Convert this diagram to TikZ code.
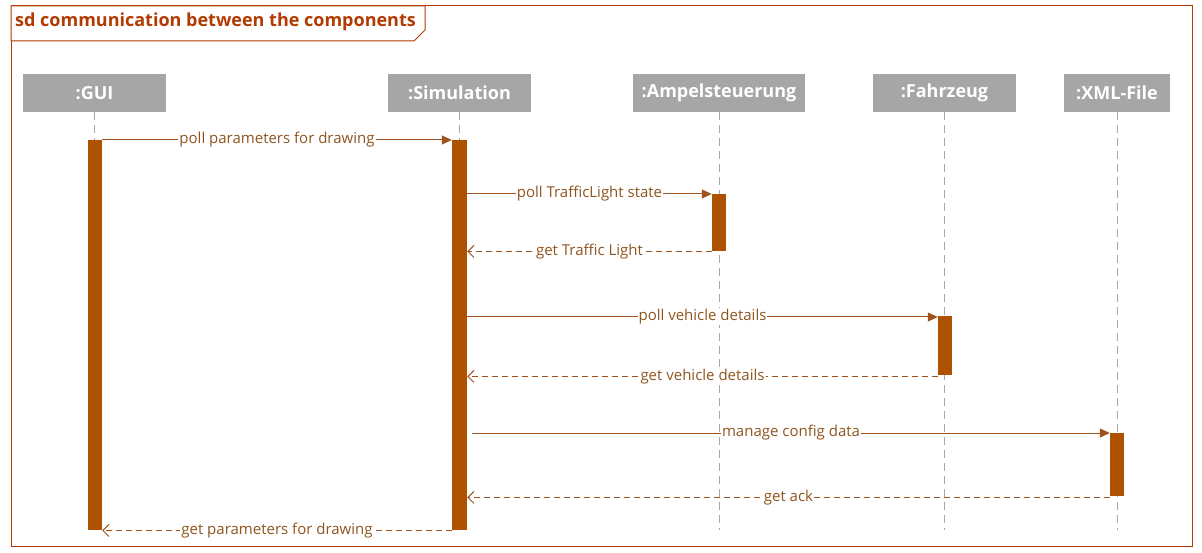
\documentclass[tikz,border=0pt]{standalone}
\usepackage{fontspec}
\setmainfont{Open Sans}
\usetikzlibrary{arrows.meta}
\definecolor{frameC}{HTML}{B33A00}
\definecolor{barC}{HTML}{AE5200}
\definecolor{msgC}{HTML}{A0521E}
\definecolor{lblC}{HTML}{8F5520}
\definecolor{headC}{HTML}{A6A6A6}
\tikzset{
  header/.style={fill=headC, text=white, font=\fontsize{18}{20}\selectfont\bfseries, minimum height=38pt, inner sep=0pt, anchor=north},
  lifeline/.style={draw=headC, line width=1pt, dash pattern=on 8pt off 5pt},
  actbar/.style={fill=barC, draw=none, minimum width=14pt, inner sep=0pt, anchor=north},
  callmsg/.style={draw=msgC, line width=1pt, -{Triangle[length=10pt,width=9pt]}},
  retmsg/.style={draw=msgC, line width=1pt, dash pattern=on 6pt off 4pt, -{Straight Barb[length=6pt,width=12pt]}},
  lbl/.style={fill=white, text=lblC, font=\fontsize{15}{17}\selectfont, inner sep=1pt}
}
\begin{document}
\begin{tikzpicture}[x=1pt,y=-1pt]
\useasboundingbox (0,0) rectangle (1202,553);
% frame
\draw[frameC, line width=1pt] (11,6) rectangle (1192,546);
\draw[frameC, line width=1pt, fill=white] (11,6) -- (425,6) -- (425,30) -- (414,41) -- (11,41) -- cycle;
\node[anchor=west, text=frameC, font=\fontsize{18}{20}\selectfont\bfseries, inner sep=0pt] (title) at (15,22) {sd communication between the components};
% headers
\node[header, minimum width=143pt] (gui) at (94.5,74) {:GUI};
\node[header, minimum width=143pt] (sim) at (459.5,74) {:Simulation};
\node[header, minimum width=172pt] (amp) at (719,74) {:Ampelsteuerung};
\node[header, minimum width=143pt] (fz) at (944.5,74) {:Fahrzeug};
\node[header, minimum width=106pt] (xml) at (1117,74) {:XML-File};
% lifeline ends
\coordinate (guiend) at (94.5,530);
\coordinate (simend) at (459.5,530);
\coordinate (ampend) at (719,530);
\coordinate (fzend) at (944.5,530);
\coordinate (xmlend) at (1117,530);
\draw[lifeline] (gui.south) -- (guiend);
\draw[lifeline] (sim.south) -- (simend);
\draw[lifeline] (amp.south) -- (ampend);
\draw[lifeline] (fz.south) -- (fzend);
\draw[lifeline] (xml.south) -- (xmlend);
% activation bars
\node[actbar, minimum height=390pt] (guibar) at (95,140) {};
\node[actbar, minimum height=390pt, minimum width=15pt] (simbar) at (459.5,140) {};
\node[actbar, minimum height=57pt] (ampbar) at (719,194) {};
\node[actbar, minimum height=59pt] (fzbar) at (945,316) {};
\node[actbar, minimum height=63pt] (xmlbar) at (1117,433) {};
% messages
\draw[callmsg] (guibar.north east) -- node[lbl]{poll parameters for drawing} (simbar.north west);
\draw[callmsg] (simbar.east |- ampbar.north) -- node[lbl]{poll TrafficLight state} (ampbar.north west);
\draw[retmsg] (ampbar.south west) -- node[lbl]{get Traffic Light} (simbar.east |- ampbar.south);
\draw[callmsg] ([yshift=-1pt]simbar.east |- fzbar.north) -- node[lbl]{poll vehicle details} ([yshift=-1pt]fzbar.north west);
\draw[retmsg] ([yshift=-1pt]fzbar.south west) -- node[lbl]{get vehicle details} ([yshift=-1pt]simbar.east |- fzbar.south);
\draw[callmsg] ([xshift=5pt]simbar.east |- xmlbar.north) -- node[lbl]{manage config data} (xmlbar.north west);
\draw[retmsg] ([yshift=-1pt]xmlbar.south west) -- node[lbl]{get ack} ([yshift=-1pt]simbar.east |- xmlbar.south);
\draw[retmsg] (simbar.south west) -- node[lbl]{get parameters for drawing} (guibar.south east);
\end{tikzpicture}
\end{document}
